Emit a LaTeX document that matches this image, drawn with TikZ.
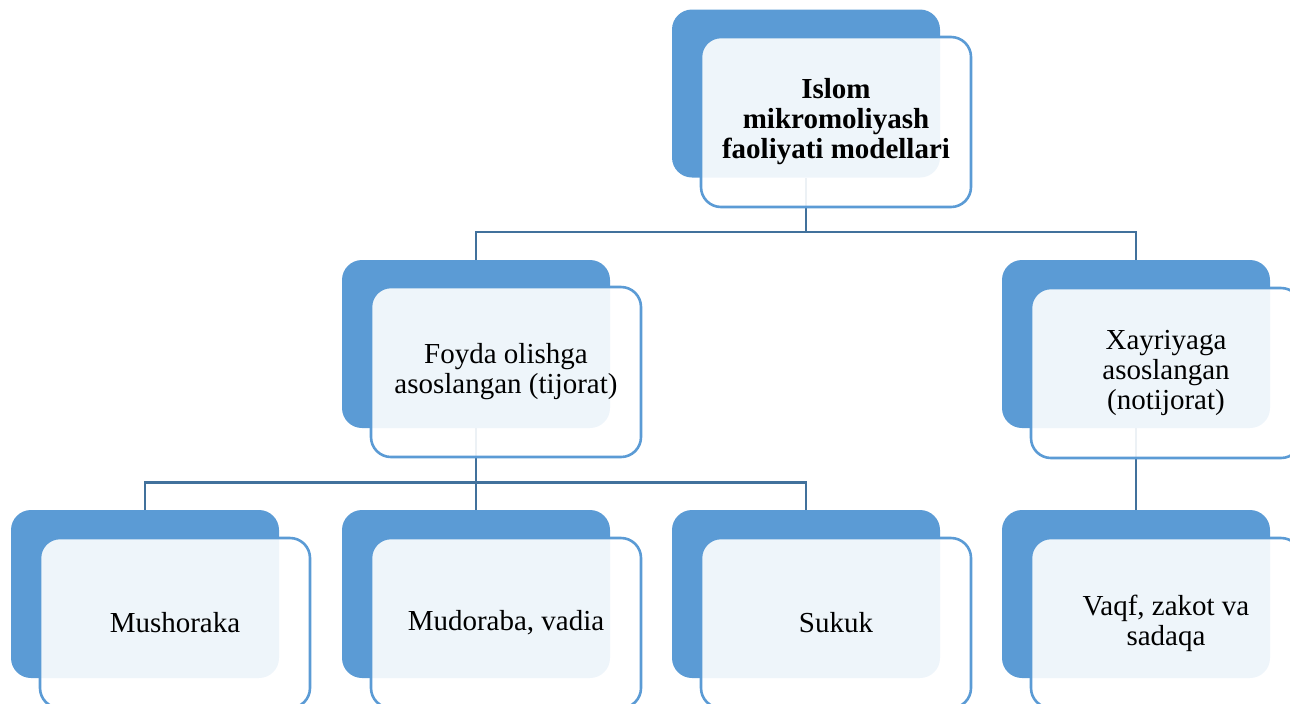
\documentclass[tikz,border=0pt]{standalone}
\usepackage{fontspec}
\setmainfont{Liberation Serif}
\definecolor{boxblue}{HTML}{5B9BD5}
\definecolor{linkblue}{HTML}{41719C}
\tikzset{
  backbox/.style  = {fill=boxblue, rounded corners=10pt, inner sep=0pt,
                     minimum width=134pt, minimum height=84pt},
  frontbox/.style = {draw=boxblue, line width=1.3pt, fill=white, fill opacity=0.9,
                     text opacity=1, rounded corners=10pt, inner sep=0pt,
                     minimum width=135pt, minimum height=85pt, align=center,
                     font=\fontsize{14.5}{15}\selectfont},
  link/.style     = {draw=linkblue, line width=1.25pt},
}
\begin{document}
\begin{tikzpicture}[x=0.5pt, y=-0.5pt]
        \useasboundingbox (0,0) rectangle (1290,703);
        \clip (0,0) rectangle (1290,703);
        % back boxes
        \node[backbox] (topback)     at ( 806, 93.5) {};
        \node[backbox] (profitback)  at ( 476,344) {};
        \node[backbox] (charityback) at (1136,344) {};
        \node[backbox] (mushback)    at ( 145,594) {};
        \node[backbox] (mudback)     at ( 476,594) {};
        \node[backbox] (sukukback)   at ( 806,594) {};
        \node[backbox] (vaqfback)    at (1136,594) {};
        % connectors
        \draw[link] (topback.south) -- ++(0,54) -| (profitback.north);
        \draw[link] (topback.south) -- ++(0,54) -| (charityback.north);
        \draw[link] (profitback.south) -- ++(0,54) -| (mushback.north);
        \draw[link] (profitback.south) -- (mudback.north);
        \draw[link] (profitback.south) -- ++(0,54) -| (sukukback.north);
        \draw[link] (charityback.south) -- (vaqfback.north);
        % front boxes
        \node[frontbox, font=\fontsize{14.5}{15}\selectfont\bfseries] (topfront) at (836,122)
              {Islom\\ mikromoliyash\\ faoliyati modellari};
        \node[frontbox] (profitfront)  at ( 506,372) {Foyda olishga\\ asoslangan (tijorat)};
        \node[frontbox] (charityfront) at (1166,373) {Xayriyaga\\ asoslangan\\ (notijorat)};
        \node[frontbox] (mushfront)    at ( 175,623) {Mushoraka};
        \node[frontbox] (mudfront)     at ( 506,623) {Mudoraba, vadia};
        \node[frontbox] (sukukfront)   at ( 836,623) {Sukuk};
        \node[frontbox] (vaqffront)    at (1166,623) {Vaqf, zakot va\\ sadaqa};
      \end{tikzpicture}
\end{document}
